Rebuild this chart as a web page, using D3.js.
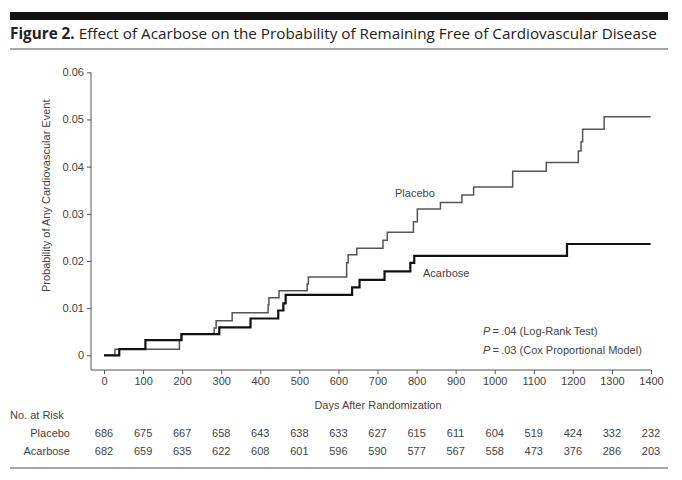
<!DOCTYPE html>
<html><head><meta charset="utf-8">
<script src="https://cdn.jsdelivr.net/npm/d3@7"></script>
<style>
html,body{margin:0;padding:0;background:#fff;}
svg{display:block;}
text{font-family:"Liberation Sans",Arial,sans-serif;fill:#3a3a3a;}
</style></head>
<body>
<svg id="chart" width="682" height="480"></svg>
<script>
// ---- Data ----
const dayTicks = [0,100,200,300,400,500,600,700,800,900,1000,1100,1200,1300,1400];
const probTicks = [0,0.01,0.02,0.03,0.04,0.05,0.06];

const placeboDays = [0,28,193,199,282,287,328,420,422,448,520,523,621,625,647,714,725,792,802,861,916,946,1046,1132,1214,1221,1225,1280,1399];
const placeboProb = [0,0.0013,0.0032,0.0045,0.0058,0.0073,0.0090,0.0107,0.0122,0.0137,0.0151,0.0166,0.0196,0.0213,0.0227,0.0244,0.0261,0.0283,0.0310,0.0324,0.0340,0.0357,0.0390,0.0409,0.0433,0.0453,0.0479,0.0506,0.0506];

const acarboseDays = [0,39,106,198,295,375,446,459,465,635,654,718,784,794,1185,1399];
const acarboseProb = [0,0.0013,0.0032,0.0045,0.0059,0.0078,0.0095,0.0110,0.0128,0.0144,0.0160,0.0178,0.0196,0.0211,0.0236,0.0236];

const riskGroups = ["Placebo","Acarbose"];
const placeboAtRisk = [686,675,667,658,643,638,633,627,615,611,604,519,424,332,232];
const acarboseAtRisk = [682,659,635,622,608,601,596,590,577,567,558,473,376,286,203];

const titleBold = "Figure 2.";
const titleRest = " Effect of Acarbose on the Probability of Remaining Free of Cardiovascular Disease";
const yTitle = "Probability of Any Cardiovascular Event";
const xTitle = "Days After Randomization";
const pLines = [[".04","(Log-Rank Test)"],[".03","(Cox Proportional Model)"]];

// ---- Layout ----
const svg = d3.select("#chart");
const W = 682;
const x = d3.scaleLinear().domain([0,1400]).range([104,651]);
const y = d3.scaleLinear().domain([0,0.06]).range([355.3,72.3]);
const axisX = 91, axisY = 370;

// header bars
svg.append("rect").attr("x",10).attr("y",12).attr("width",658).attr("height",8).attr("fill","#111");
svg.append("line").attr("x1",10).attr("x2",668).attr("y1",49).attr("y2",49).attr("stroke","#8a8a8a").attr("stroke-width",1.5);
svg.append("line").attr("x1",10).attr("x2",668).attr("y1",468).attr("y2",468).attr("stroke","#8a8a8a").attr("stroke-width",1.5);

// title
const title = svg.append("text").attr("x",10).attr("y",39)
  .style("font-family","'Open Sans','Noto Sans',sans-serif").style("font-size","15px").style("fill","#222");
title.append("tspan").attr("font-weight","bold").text(titleBold);
title.append("tspan").text(titleRest);
(function fit(){
  const target = 647;
  const w = title.node().getComputedTextLength();
  if (w>0) title.style("font-size",(15*target/w).toFixed(2)+"px");
})();

// y axis
const yAxis = d3.axisLeft(y).tickValues(probTicks).tickSize(4).tickPadding(3)
  .tickFormat(d => d===0 ? "0" : d3.format(".2f")(d));
const gy = svg.append("g").attr("transform",`translate(${axisX},0)`).call(yAxis);
gy.select(".domain").remove();
gy.selectAll("line").attr("stroke","#555");
gy.selectAll("text").style("font-size","11px").style("fill","#444").style("font-family","'Liberation Sans',Arial,sans-serif");
svg.append("line").attr("x1",axisX).attr("x2",axisX).attr("y1",y(0.06)).attr("y2",axisY).attr("stroke","#555").attr("stroke-width",1);

// x axis
const xAxis = d3.axisBottom(x).tickValues(dayTicks).tickSize(4).tickPadding(3).tickFormat(d3.format("d"));
const gx = svg.append("g").attr("transform",`translate(0,${axisY})`).call(xAxis);
gx.select(".domain").remove();
gx.selectAll("line").attr("stroke","#555");
gx.selectAll("text").style("font-size","11px").style("fill","#444").style("font-family","'Liberation Sans',Arial,sans-serif");
svg.append("line").attr("x1",axisX).attr("x2",x(1400)).attr("y1",axisY).attr("y2",axisY).attr("stroke","#555").attr("stroke-width",1);

// axis titles
svg.append("text").attr("transform",`translate(50,${(y(0.06)+y(0))/2+ -18}) rotate(-90)`)
  .attr("text-anchor","middle").style("font-size","11px").style("fill","#444").text(yTitle);
svg.append("text").attr("x",378).attr("y",409).attr("text-anchor","middle")
  .style("font-size","11px").style("fill","#444").text(xTitle);

// curves
const line = d3.line().x(d=>x(d[0])).y(d=>y(d[1])).curve(d3.curveStepAfter);
const placebo = d3.zip(placeboDays, placeboProb);
const acarbose = d3.zip(acarboseDays, acarboseProb);
svg.append("path").datum(placebo).attr("d",line).attr("fill","none").attr("stroke","#555").attr("stroke-width",1.5);
svg.append("path").datum(acarbose).attr("d",line).attr("fill","none").attr("stroke","#111").attr("stroke-width",2.2);

// curve labels
svg.append("text").attr("x",395).attr("y",197).style("font-size","11px").style("fill","#444").text("Placebo");
svg.append("text").attr("x",423).attr("y",277).style("font-size","11px").style("fill","#444").text("Acarbose");

// p-values
pLines.forEach((p,i)=>{
  const t = svg.append("text").attr("x",483).attr("y",335+i*19).style("font-size","11px").style("fill","#444");
  t.append("tspan").style("font-style","italic").text("P");
  t.append("tspan").text("\u2009=\u2009"+p[0]+" "+p[1]);
});

// at-risk table
svg.append("text").attr("x",10).attr("y",419).style("font-size","11px").style("fill","#444").text("No. at Risk");
const rows = [placeboAtRisk, acarboseAtRisk];
rows.forEach((vals,i)=>{
  const yy = 437 + i*18;
  svg.append("text").attr("x",70).attr("y",yy).attr("text-anchor","end")
    .style("font-size","11px").style("fill","#444").text(riskGroups[i]);
  svg.append("g").selectAll("text").data(vals).join("text")
    .attr("x",(d,j)=>x(dayTicks[j])).attr("y",yy).attr("text-anchor","middle")
    .style("font-size","11px").style("fill","#444").text(d=>d);
});
</script>
</body></html>
